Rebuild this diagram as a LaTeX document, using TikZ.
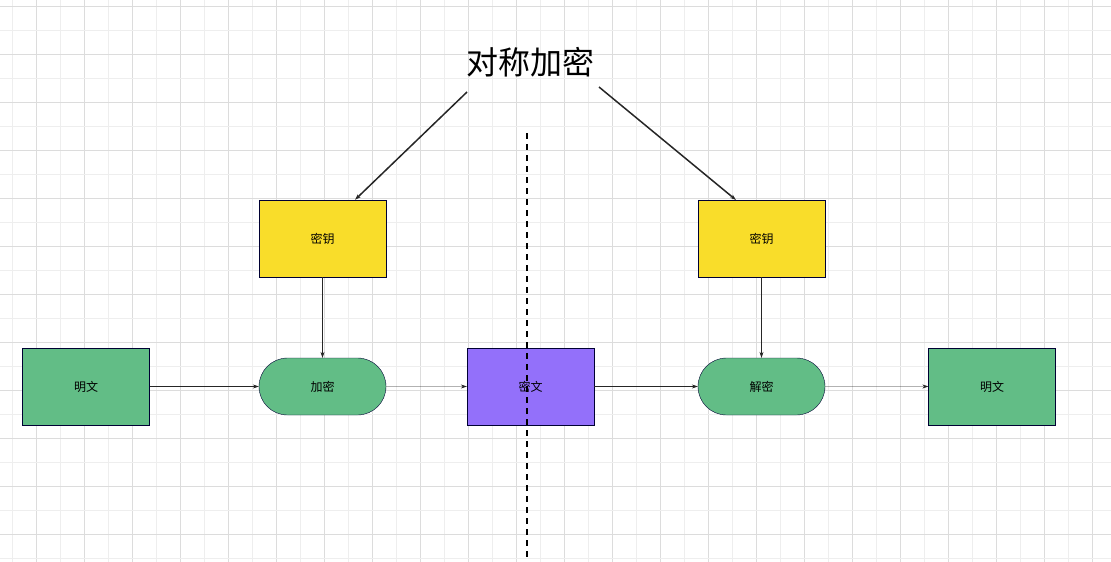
\documentclass[tikz,border=0pt]{standalone}
\usepackage{fontspec}
\newfontfamily\cjk{Noto Sans CJK SC}
\usetikzlibrary{arrows.meta,positioning,shapes}
\definecolor{keyyellow}{HTML}{F9DD2A}
\definecolor{txtgreen}{HTML}{62BD86}
\definecolor{cipherpurple}{HTML}{9370FA}
\definecolor{gridlight}{HTML}{EEEEEE}
\definecolor{griddark}{HTML}{DCDCDC}
\tikzstyle{boite}=[draw=black!80!blue,minimum width=127pt,minimum height=77pt,inner sep=0pt,font={\cjk\fontsize{12pt}{14}\selectfont}]
\tikzstyle{boite-ronde}=[boite,rounded rectangle,minimum height=57pt]
\tikzstyle{fleche}=[draw=black!85,-{Stealth[length=6pt,width=4pt]}]

\begin{document}
\begin{tikzpicture}[x=1pt,y=-1pt]
        \useasboundingbox (0,0) rectangle (1111,562);
        % grille
        \foreach \x in {12.5,60.5,...,1111} \draw[gridlight] (\x,0) -- (\x,562);
        \foreach \x in {36.5,84.5,...,1111} \draw[griddark] (\x,0) -- (\x,562);
        \foreach \y in {30,78,...,562} \draw[gridlight] (0,\y) -- (1111,\y);
        \foreach \y in {6,54,...,562} \draw[griddark] (0,\y) -- (1111,\y);
        %
        \node[font={\cjk\fontsize{32pt}{36}\selectfont}] (titre) at (530,62) {对称加密};
        \coordinate (titre-g) at (467,92);
        \coordinate (titre-d) at (599,87);

        \node[boite, fill=keyyellow] (cle1) at (322.5,238.5) {密钥};
        \node[boite, fill=keyyellow] (cle2) at (761.5,238.5) {密钥};
        \node[boite, fill=txtgreen] (clair1) at (86,386.5) {明文};
        \node[boite-ronde, fill=txtgreen] (chiffre) at (322.5,386.5) {加密};
        \node[boite, fill=cipherpurple] (secret) at (530.5,386.5) {密文};
        \node[boite-ronde, fill=txtgreen] (dechiffre) at (761.5,386.5) {解密};
        \node[boite, fill=txtgreen] (clair2) at (992,386.5) {明文};

        \coordinate (sep-haut) at (527,133);
        \coordinate (sep-bas) at (527,562);
        \draw[line width=2.5pt, dash pattern=on 6pt off 5pt] (sep-haut) -- (sep-bas);

        \path[fleche, line width=1.5pt] (titre-g) -- ([xshift=-2pt]cle1.north east -| 357,200);
        \path[fleche, line width=1.5pt] (titre-d) -- (736,200);
        \path[fleche] (cle1) -- (chiffre);
        \path[fleche] (cle2) -- (dechiffre);
        \path[fleche] (clair1) -- (chiffre);
        \path[fleche] (chiffre) -- (secret);
        \path[fleche] (secret) -- (dechiffre);
        \path[fleche] (dechiffre) -- (clair2);
    \end{tikzpicture}
\end{document}
